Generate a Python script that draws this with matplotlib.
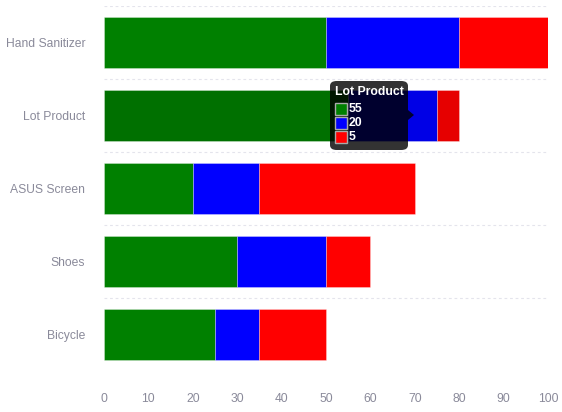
import matplotlib.pyplot as plt
from matplotlib.patches import FancyBboxPatch, Rectangle, Polygon
import numpy as np

plt.rcParams['font.family'] = ['Liberation Sans', 'DejaVu Sans']

categories = ["Hand Sanitizer", "Lot Product", "ASUS Screen", "Shoes", "Bicycle"]
green_vals = [50, 55, 20, 30, 25]
blue_vals = [30, 20, 15, 20, 10]
red_vals = [20, 5, 35, 10, 15]
x_ticks = [0, 10, 20, 30, 40, 50, 60, 70, 80, 90, 100]

colors = ["#008000", "#0000ff", "#ff0000"]
hover_colors = ["#007000", "#0000e6", "#e60000"]
hover_idx = 1

fig = plt.figure(figsize=(5.62, 4.12), dpi=100)
ax = fig.add_axes([104 / 562, 1 - 371 / 412, 444 / 562, 365 / 412])

y = np.arange(len(categories))
left = np.zeros(len(categories))
for i, vals in enumerate([green_vals, blue_vals, red_vals]):
    cols = [hover_colors[i] if k == hover_idx else colors[i] for k in range(len(categories))]
    ax.barh(y, vals, left=left, height=0.71, color=cols, edgecolor=(1, 1, 1, 0.35),
            lw=0.6, zorder=2)
    left += np.array(vals)

ax.set_xlim(0, 100)
ax.set_ylim(len(categories) - 0.5, -0.5)
ax.set_yticks(y)
ax.set_yticklabels(categories)
ax.set_xticks(x_ticks)
for b in np.arange(-0.5, len(categories) - 1, 1.0):
    ax.axhline(b, color="#e4e4ec", lw=0.8, ls=(0, (2.5, 2.5)), zorder=1)
for s in ax.spines.values():
    s.set_visible(False)
ax.tick_params(length=0, colors="#8a8a9a", labelsize=8.7)
ax.tick_params(axis="y", pad=13.5)
ax.tick_params(axis="x", pad=15.5)

# tooltip
def px(x, yy):
    return x / 562, 1 - yy / 412

bx0, by0 = px(330, 150)
bx1, by1 = px(408, 81)
box = FancyBboxPatch((bx0, by0), bx1 - bx0, by1 - by0, boxstyle="round,pad=0,rounding_size=0.012",
                     transform=fig.transFigure, facecolor=(0, 0, 0, 0.8), edgecolor="none", zorder=5)
fig.patches.append(box)
tri = Polygon([px(408, 110), px(414, 115), px(408, 120)], closed=True, transform=fig.transFigure,
              facecolor=(0, 0, 0, 0.8), edgecolor="none")
fig.patches.append(tri)
fig.text(*px(335, 92), categories[hover_idx], color="white", fontsize=8.8, fontweight="bold",
         va="center", ha="left", zorder=6)
vals = [green_vals[hover_idx], blue_vals[hover_idx], red_vals[hover_idx]]
for j, (v, c) in enumerate(zip(vals, colors)):
    yy = 109 + j * 14
    sx, sy = px(335, yy + 6)
    sq = Rectangle((sx, sy), 12 / 562, 12 / 412, transform=fig.transFigure, facecolor=c,
                   edgecolor="#aaaaaa", lw=1, zorder=6)
    fig.patches.append(sq)
    fig.text(*px(349, yy), str(v), color="white", fontsize=8.8, fontweight="bold",
             va="center", ha="left", zorder=6)

fig.savefig("out.png", dpi=100)
